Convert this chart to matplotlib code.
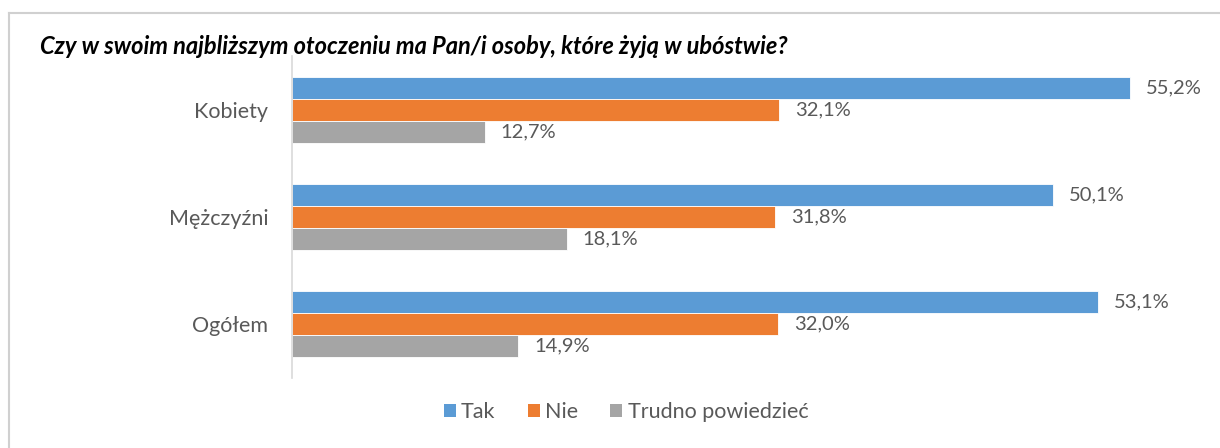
import matplotlib.pyplot as plt
from matplotlib.lines import Line2D
from matplotlib.patches import Patch

plt.rcParams['font.family'] = ['Lato', 'DejaVu Sans']

# Survey answers by group (percent)
groups = ['Kobiety', 'Mężczyźni', 'Ogółem']
answers = ['Tak', 'Nie', 'Trudno powiedzieć']
tak = [55.2, 50.1, 53.1]
nie = [32.1, 31.8, 32.0]
trudno = [12.7, 18.1, 14.9]
colors = ['#5B9BD5', '#ED7D31', '#A5A5A5']

W, H = 1220, 448
fig = plt.figure(figsize=(W / 100, H / 100), dpi=100)

# outer chart frame (top and left edges show)
frame = '#D0D0D0'
fig.add_artist(Line2D([9 / W, 1.0], [1 - 13 / H, 1 - 13 / H], color=frame, lw=1.5))
fig.add_artist(Line2D([9 / W, 9 / W], [0, 1 - 13 / H], color=frame, lw=1.5))

# axes spans x 292..1203 px, y 56..378 px
ax = fig.add_axes([292 / W, 1 - 378 / H, (1203 - 292) / W, (378 - 56) / H])

bar_h = 0.205
series = [tak, nie, trudno]
for k, (vals, col) in enumerate(zip(series, colors)):
    for i, v in enumerate(vals):
        y = i + (k - 1) * bar_h
        ax.barh(y, v, height=bar_h, color=col, edgecolor='white', linewidth=0.6)
        ax.text(v + 1.05, y, f'{v:.1f}%'.replace('.', ','), va='center', ha='left',
                fontsize=14.5, color='#595959')

ax.set_xlim(0, 60)
ax.set_ylim(2.5, -0.5)
ax.set_yticks(range(len(groups)))
ax.set_yticklabels(groups, fontsize=15.5, color='#595959')
ax.tick_params(axis='y', length=0, pad=17)
ax.set_xticks([])
for s in ['top', 'right', 'bottom']:
    ax.spines[s].set_visible(False)
ax.spines['left'].set_color('#D9D9D9')
ax.spines['left'].set_linewidth(1.2)

fig.text(40 / W, 1 - 47 / H, 'Czy w swoim najbliższym otoczeniu ma Pan/i osoby, które żyją w ubóstwie?',
         fontsize=17, fontweight='bold', fontstyle='italic', color='black', va='center', ha='left')

handles = [Patch(facecolor=c) for c in colors]
fig.legend(handles, answers, loc='center', bbox_to_anchor=(626 / W, 1 - 412 / H), ncol=3,
           frameon=False, fontsize=15.5, labelcolor='#595959', handlelength=0.55, handleheight=0.55,
           handletextpad=0.25, columnspacing=1.5)

fig.savefig('out.png', dpi=100, facecolor='white')
